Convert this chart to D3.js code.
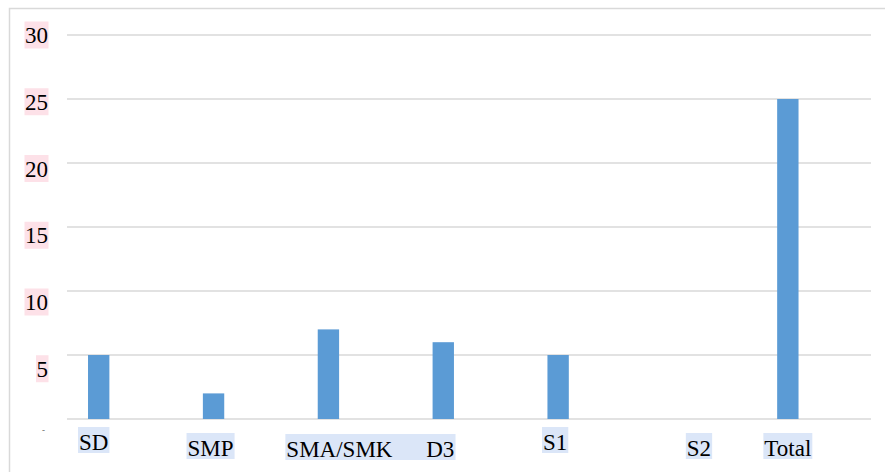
<!DOCTYPE html>
<html>
<head>
<meta charset="utf-8">
<script src="https://cdn.jsdelivr.net/npm/d3@7/dist/d3.min.js"></script>
<style>
  html, body { margin: 0; padding: 0; background: #fff; }
  svg { display: block; }
</style>
</head>
<body>
<svg id="chart" width="885" height="472"></svg>
<script>
// ---- data ----
const categories = ["SD", "SMP", "SMA/SMK", "D3", "S1", "S2", "Total"];
const values = [5, 2, 7, 6, 5, 0, 25];
const yTicks = [0, 5, 10, 15, 20, 25, 30];
const yTickLabels = ["-", "5", "10", "15", "20", "25", "30"];

// ---- layout / style constants ----
const W = 885, H = 472;
const plot = { left: 67, right: 871, top: 35, bottom: 419 };
const barColor = "#5b9bd5";
const gridColor = "#d9d9d9";
const yLabelBg = "#fde1e8";
const xLabelBg = "#dbe6f8";
const fontSize = 23;
const fontFamily = "'Liberation Serif', 'Times New Roman', Times, 'DejaVu Serif', serif";
// label placement nudges (layout only)
const xLabelNudge = [-5, -3, 11, -3, -3, 26, 0];
const xLabelBaseline = [450, 456, 457, 457, 450, 456, 456];

const svg = d3.select("#chart");

// outer border
svg.append("rect")
  .attr("x", 9.5).attr("y", 8.5)
  .attr("width", 900).attr("height", 500)
  .attr("fill", "none").attr("stroke", gridColor).attr("stroke-width", 1.5);

const x = d3.scaleBand().domain(categories).range([plot.left, plot.right]).padding(0);
const y = d3.scaleLinear().domain([0, 30]).range([plot.bottom, plot.top]);

// gridlines
svg.append("g").selectAll("line").data(yTicks).join("line")
  .attr("x1", plot.left).attr("x2", plot.right)
  .attr("y1", d => y(d)).attr("y2", d => y(d))
  .attr("stroke", gridColor).attr("stroke-width", 1.6);

// bars
const bw = x.bandwidth();
const barOff = bw * 0.183, barW = bw * 0.186;
svg.append("g").selectAll("rect").data(categories.map((c, i) => ({ c, v: values[i] }))).join("rect")
  .attr("x", d => x(d.c) + barOff)
  .attr("width", barW)
  .attr("y", d => y(d.v))
  .attr("height", d => y(0) - y(d.v))
  .attr("fill", barColor);

// y labels
const yg = svg.append("g");
yTicks.forEach((t, i) => {
  if (t === 0) {
    yg.append("text").attr("x", 45).attr("y", 433)
      .attr("text-anchor", "end").attr("font-size", 9).attr("font-family", fontFamily)
      .attr("fill", "#555").text(yTickLabels[i]);
    return;
  }
  const cy = y(t) + (30 - t) * 0.55;
  const g = yg.append("g");
  const bg = g.append("rect").attr("fill", yLabelBg);
  const tx = g.append("text").attr("x", 48).attr("y", cy + 8)
    .attr("text-anchor", "end")
    .attr("font-family", fontFamily).attr("fill", "#000")
    .attr("font-size", fontSize).text(yTickLabels[i]);
  const b = tx.node().getBBox();
  bg.attr("x", b.x - 0.5).attr("y", cy - 13.5).attr("width", b.width + 1).attr("height", 27);
});

// x labels
const xg = svg.append("g");
const boxes = [];
categories.forEach((c, i) => {
  const g = xg.append("g");
  const bg = g.append("rect").attr("fill", xLabelBg);
  const tx = g.append("text")
    .attr("x", x(c) + barOff + barW / 2 + xLabelNudge[i])
    .attr("y", xLabelBaseline[i])
    .attr("text-anchor", "middle")
    .attr("font-family", fontFamily).attr("fill", "#000")
    .attr("font-size", fontSize).text(c);
  const b = tx.node().getBBox();
  boxes.push({ bg, b, base: xLabelBaseline[i] });
});
boxes.forEach((o, i) => {
  let x0 = o.b.x - 1, x1 = o.b.x + o.b.width + 1;
  if (i === 2) x1 = boxes[3].b.x + boxes[3].b.width + 1; // SMA/SMK box runs through D3
  o.bg.attr("x", x0).attr("y", o.base - 23).attr("width", x1 - x0).attr("height", 26);
});
</script>
</body>
</html>
